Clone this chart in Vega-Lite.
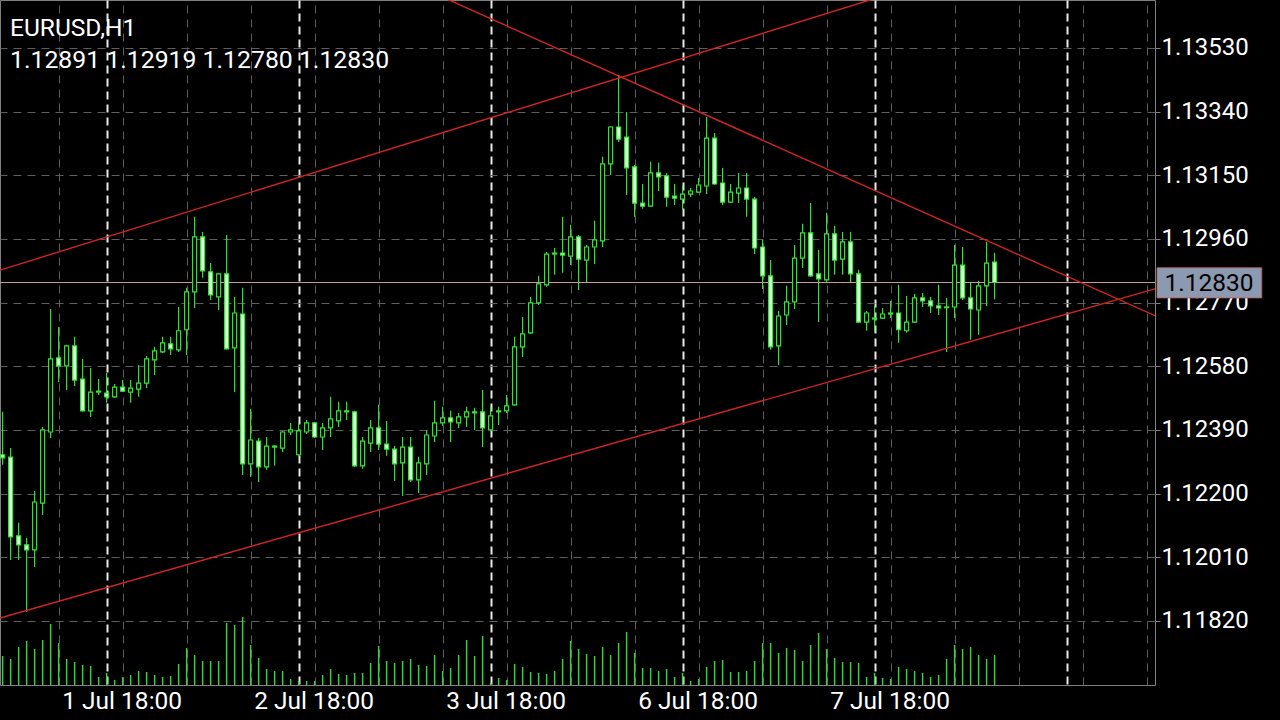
{
"$schema": "https://vega.github.io/schema/vega-lite/v6.json",
"width": 1155, "height": 685,
"autosize": {"type": "none"},
"padding": {"left": 0, "top": 0, "right": 125, "bottom": 35},
"background": "#000000",
"config": {"view": {"stroke": "#808080", "strokeWidth": 1}, "font": "Roboto", "scale": {"continuousPadding": 0}},
"title": {"text": "EURUSD,H1", "subtitle": "1.12891 1.12919 1.12780 1.12830", "anchor": "start", "frame": "group", "orient": "top", "offset": -74, "dx": 10, "font": "Roboto", "subtitleFont": "Roboto", "fontSize": 24.5, "subtitleFontSize": 24.8, "fontWeight": "normal", "color": "#ffffff", "subtitleColor": "#ffffff", "subtitlePadding": 7},
"datasets": {
"candles": [
{"bar":-13,"open":1.12316,"high":1.12444,"low":1.12286,"close":1.12307,"volume":870},
{"bar":-12,"open":1.12309,"high":1.12336,"low":1.12002,"close":1.12071,"volume":780},
{"bar":-11,"open":1.12074,"high":1.12113,"low":1.12002,"close":1.12047,"volume":1140},
{"bar":-10,"open":1.12047,"high":1.12068,"low":1.11847,"close":1.12032,"volume":1320},
{"bar":-9,"open":1.12032,"high":1.12208,"low":1.11981,"close":1.12175,"volume":1080},
{"bar":-8,"open":1.12172,"high":1.12399,"low":1.12136,"close":1.12390,"volume":1350},
{"bar":-7,"open":1.12384,"high":1.12751,"low":1.12366,"close":1.12602,"volume":1830},
{"bar":-6,"open":1.12605,"high":1.12697,"low":1.12533,"close":1.12581,"volume":1260},
{"bar":-5,"open":1.12581,"high":1.12644,"low":1.12509,"close":1.12641,"volume":780},
{"bar":-4,"open":1.12641,"high":1.12668,"low":1.12521,"close":1.12539,"volume":690},
{"bar":-3,"open":1.12542,"high":1.12602,"low":1.12445,"close":1.12447,"volume":600},
{"bar":-2,"open":1.12447,"high":1.12575,"low":1.12429,"close":1.12503,"volume":570},
{"bar":-1,"open":1.12503,"high":1.12542,"low":1.12494,"close":1.12506,"volume":240},
{"bar":0,"open":1.12500,"high":1.12560,"low":1.12471,"close":1.12489,"volume":360},
{"bar":1,"open":1.12489,"high":1.12527,"low":1.12486,"close":1.12518,"volume":150},
{"bar":2,"open":1.12518,"high":1.12539,"low":1.12503,"close":1.12506,"volume":240},
{"bar":3,"open":1.12503,"high":1.12539,"low":1.12471,"close":1.12515,"volume":300},
{"bar":4,"open":1.12512,"high":1.12584,"low":1.12489,"close":1.12530,"volume":420},
{"bar":5,"open":1.12530,"high":1.12611,"low":1.12515,"close":1.12602,"volume":390},
{"bar":6,"open":1.12599,"high":1.12638,"low":1.12554,"close":1.12626,"volume":300},
{"bar":7,"open":1.12623,"high":1.12668,"low":1.12620,"close":1.12650,"volume":240},
{"bar":8,"open":1.12647,"high":1.12668,"low":1.12614,"close":1.12632,"volume":270},
{"bar":9,"open":1.12629,"high":1.12757,"low":1.12623,"close":1.12686,"volume":630},
{"bar":10,"open":1.12689,"high":1.12814,"low":1.12614,"close":1.12802,"volume":1110},
{"bar":11,"open":1.12802,"high":1.13026,"low":1.12754,"close":1.12966,"volume":900},
{"bar":12,"open":1.12966,"high":1.12981,"low":1.12844,"close":1.12865,"volume":720},
{"bar":13,"open":1.12862,"high":1.12888,"low":1.12778,"close":1.12793,"volume":720},
{"bar":14,"open":1.12787,"high":1.12859,"low":1.12748,"close":1.12856,"volume":720},
{"bar":15,"open":1.12856,"high":1.12972,"low":1.12630,"close":1.12632,"volume":1860},
{"bar":16,"open":1.12635,"high":1.12787,"low":1.12503,"close":1.12739,"volume":1800},
{"bar":17,"open":1.12736,"high":1.12814,"low":1.12256,"close":1.12289,"volume":2040},
{"bar":18,"open":1.12289,"high":1.12453,"low":1.12250,"close":1.12360,"volume":1200},
{"bar":19,"open":1.12357,"high":1.12366,"low":1.12235,"close":1.12280,"volume":810},
{"bar":20,"open":1.12280,"high":1.12369,"low":1.12271,"close":1.12342,"volume":480},
{"bar":21,"open":1.12342,"high":1.12345,"low":1.12283,"close":1.12339,"volume":420},
{"bar":22,"open":1.12336,"high":1.12386,"low":1.12324,"close":1.12384,"volume":420},
{"bar":23,"open":1.12384,"high":1.12411,"low":1.12375,"close":1.12390,"volume":180},
{"bar":24,"open":1.12316,"high":1.12411,"low":1.12310,"close":1.12387,"volume":120},
{"bar":25,"open":1.12384,"high":1.12420,"low":1.12378,"close":1.12411,"volume":120},
{"bar":26,"open":1.12411,"high":1.12414,"low":1.12366,"close":1.12369,"volume":120},
{"bar":27,"open":1.12369,"high":1.12411,"low":1.12330,"close":1.12396,"volume":300},
{"bar":28,"open":1.12396,"high":1.12489,"low":1.12369,"close":1.12423,"volume":480},
{"bar":29,"open":1.12417,"high":1.12474,"low":1.12399,"close":1.12447,"volume":330},
{"bar":30,"open":1.12447,"high":1.12474,"low":1.12420,"close":1.12444,"volume":300},
{"bar":31,"open":1.12444,"high":1.12447,"low":1.12280,"close":1.12283,"volume":360},
{"bar":32,"open":1.12283,"high":1.12369,"low":1.12274,"close":1.12357,"volume":360},
{"bar":33,"open":1.12351,"high":1.12420,"low":1.12324,"close":1.12396,"volume":660},
{"bar":34,"open":1.12396,"high":1.12465,"low":1.12330,"close":1.12348,"volume":1170},
{"bar":35,"open":1.12348,"high":1.12417,"low":1.12313,"close":1.12333,"volume":720},
{"bar":36,"open":1.12333,"high":1.12342,"low":1.12238,"close":1.12289,"volume":660},
{"bar":37,"open":1.12292,"high":1.12369,"low":1.12193,"close":1.12339,"volume":720},
{"bar":38,"open":1.12339,"high":1.12369,"low":1.12235,"close":1.12241,"volume":780},
{"bar":39,"open":1.12241,"high":1.12310,"low":1.12202,"close":1.12292,"volume":600},
{"bar":40,"open":1.12289,"high":1.12390,"low":1.12256,"close":1.12375,"volume":570},
{"bar":41,"open":1.12372,"high":1.12477,"low":1.12354,"close":1.12411,"volume":900},
{"bar":42,"open":1.12411,"high":1.12459,"low":1.12402,"close":1.12426,"volume":420},
{"bar":43,"open":1.12426,"high":1.12447,"low":1.12354,"close":1.12414,"volume":510},
{"bar":44,"open":1.12411,"high":1.12441,"low":1.12396,"close":1.12429,"volume":900},
{"bar":45,"open":1.12429,"high":1.12459,"low":1.12399,"close":1.12444,"volume":1350},
{"bar":46,"open":1.12444,"high":1.12456,"low":1.12390,"close":1.12441,"volume":870},
{"bar":47,"open":1.12444,"high":1.12509,"low":1.12339,"close":1.12396,"volume":1470},
{"bar":48,"open":1.12390,"high":1.12459,"low":1.12387,"close":1.12432,"volume":60},
{"bar":49,"open":1.12444,"high":1.12459,"low":1.12405,"close":1.12447,"volume":210},
{"bar":50,"open":1.12447,"high":1.12494,"low":1.12441,"close":1.12462,"volume":150},
{"bar":51,"open":1.12465,"high":1.12668,"low":1.12463,"close":1.12638,"volume":630},
{"bar":52,"open":1.12638,"high":1.12727,"low":1.12608,"close":1.12677,"volume":540},
{"bar":53,"open":1.12680,"high":1.12787,"low":1.12677,"close":1.12769,"volume":390},
{"bar":54,"open":1.12769,"high":1.12850,"low":1.12763,"close":1.12826,"volume":360},
{"bar":55,"open":1.12823,"high":1.12921,"low":1.12817,"close":1.12915,"volume":330},
{"bar":56,"open":1.12915,"high":1.12933,"low":1.12853,"close":1.12918,"volume":420},
{"bar":57,"open":1.12918,"high":1.13026,"low":1.12859,"close":1.12912,"volume":780},
{"bar":58,"open":1.12909,"high":1.13002,"low":1.12882,"close":1.12966,"volume":1320},
{"bar":59,"open":1.12966,"high":1.12972,"low":1.12808,"close":1.12900,"volume":1080},
{"bar":60,"open":1.12897,"high":1.12942,"low":1.12829,"close":1.12936,"volume":930},
{"bar":61,"open":1.12936,"high":1.13014,"low":1.12885,"close":1.12957,"volume":870},
{"bar":62,"open":1.12954,"high":1.13205,"low":1.12936,"close":1.13184,"volume":1140},
{"bar":63,"open":1.13184,"high":1.13296,"low":1.13151,"close":1.13294,"volume":900},
{"bar":64,"open":1.13294,"high":1.13449,"low":1.13249,"close":1.13258,"volume":1260},
{"bar":65,"open":1.13264,"high":1.13339,"low":1.13091,"close":1.13172,"volume":1590},
{"bar":66,"open":1.13175,"high":1.13181,"low":1.13026,"close":1.13067,"volume":960},
{"bar":67,"open":1.13067,"high":1.13124,"low":1.13050,"close":1.13058,"volume":510},
{"bar":68,"open":1.13058,"high":1.13190,"low":1.13056,"close":1.13157,"volume":510},
{"bar":69,"open":1.13157,"high":1.13187,"low":1.13103,"close":1.13145,"volume":420},
{"bar":70,"open":1.13148,"high":1.13157,"low":1.13056,"close":1.13085,"volume":480},
{"bar":71,"open":1.13088,"high":1.13124,"low":1.13061,"close":1.13082,"volume":240},
{"bar":72,"open":1.13079,"high":1.13118,"low":1.13047,"close":1.13094,"volume":360},
{"bar":73,"open":1.13094,"high":1.13112,"low":1.13085,"close":1.13103,"volume":120},
{"bar":74,"open":1.13100,"high":1.13142,"low":1.13097,"close":1.13121,"volume":180},
{"bar":75,"open":1.13118,"high":1.13324,"low":1.13094,"close":1.13261,"volume":540},
{"bar":76,"open":1.13261,"high":1.13276,"low":1.13122,"close":1.13124,"volume":720},
{"bar":77,"open":1.13127,"high":1.13172,"low":1.13061,"close":1.13070,"volume":750},
{"bar":78,"open":1.13070,"high":1.13124,"low":1.13067,"close":1.13100,"volume":390},
{"bar":79,"open":1.13097,"high":1.13157,"low":1.13067,"close":1.13112,"volume":390},
{"bar":80,"open":1.13112,"high":1.13157,"low":1.13026,"close":1.13079,"volume":420},
{"bar":81,"open":1.13079,"high":1.13085,"low":1.12915,"close":1.12933,"volume":720},
{"bar":82,"open":1.12936,"high":1.12957,"low":1.12811,"close":1.12850,"volume":1260},
{"bar":83,"open":1.12850,"high":1.12897,"low":1.12629,"close":1.12638,"volume":1260},
{"bar":84,"open":1.12641,"high":1.12745,"low":1.12584,"close":1.12730,"volume":960},
{"bar":85,"open":1.12733,"high":1.12820,"low":1.12703,"close":1.12772,"volume":1110},
{"bar":86,"open":1.12772,"high":1.12942,"low":1.12751,"close":1.12903,"volume":1050},
{"bar":87,"open":1.12903,"high":1.13005,"low":1.12873,"close":1.12978,"volume":720},
{"bar":88,"open":1.12978,"high":1.13067,"low":1.12847,"close":1.12850,"volume":1200},
{"bar":89,"open":1.12856,"high":1.12927,"low":1.12712,"close":1.12841,"volume":1560},
{"bar":90,"open":1.12838,"high":1.13038,"low":1.12832,"close":1.12975,"volume":1080},
{"bar":91,"open":1.12975,"high":1.12999,"low":1.12853,"close":1.12897,"volume":810},
{"bar":92,"open":1.12900,"high":1.12981,"low":1.12853,"close":1.12951,"volume":690},
{"bar":93,"open":1.12951,"high":1.12981,"low":1.12829,"close":1.12856,"volume":690},
{"bar":94,"open":1.12856,"high":1.12868,"low":1.12710,"close":1.12712,"volume":660},
{"bar":95,"open":1.12712,"high":1.12745,"low":1.12686,"close":1.12739,"volume":240},
{"bar":96,"open":1.12724,"high":1.12760,"low":1.12683,"close":1.12721,"volume":360},
{"bar":97,"open":1.12724,"high":1.12754,"low":1.12721,"close":1.12736,"volume":210},
{"bar":98,"open":1.12739,"high":1.12775,"low":1.12724,"close":1.12736,"volume":180},
{"bar":99,"open":1.12739,"high":1.12823,"low":1.12650,"close":1.12689,"volume":540},
{"bar":100,"open":1.12686,"high":1.12790,"low":1.12680,"close":1.12712,"volume":480},
{"bar":101,"open":1.12712,"high":1.12796,"low":1.12709,"close":1.12784,"volume":420},
{"bar":102,"open":1.12784,"high":1.12799,"low":1.12757,"close":1.12775,"volume":360},
{"bar":103,"open":1.12775,"high":1.12787,"low":1.12739,"close":1.12760,"volume":240},
{"bar":104,"open":1.12760,"high":1.12823,"low":1.12733,"close":1.12754,"volume":300},
{"bar":105,"open":1.12757,"high":1.12784,"low":1.12623,"close":1.12755,"volume":780},
{"bar":106,"open":1.12757,"high":1.12942,"low":1.12724,"close":1.12882,"volume":1200},
{"bar":107,"open":1.12882,"high":1.12936,"low":1.12778,"close":1.12784,"volume":1080},
{"bar":108,"open":1.12784,"high":1.12829,"low":1.12659,"close":1.12751,"volume":1140},
{"bar":109,"open":1.12748,"high":1.12835,"low":1.12674,"close":1.12820,"volume":900},
{"bar":110,"open":1.12820,"high":1.12951,"low":1.12760,"close":1.12888,"volume":780},
{"bar":111,"open":1.12891,"high":1.12919,"low":1.12780,"close":1.12830,"volume":900}
],
"trendlines": [
{"line":"upper","bar":-13.33,"price":1.12867},
{"line":"upper","bar":131.05,"price":1.13937},
{"line":"falling","bar":-13.33,"price":1.14272},
{"line":"falling","bar":131.05,"price":1.12731},
{"line":"lower","bar":-13.33,"price":1.11829},
{"line":"lower","bar":131.05,"price":1.12811}
],
"last": [{"price":1.1283,"label":"1.12830","lo":1.12784,"hi":1.12874}]
},
"layer": [
{
"data": {"name": "candles"},
"mark": {"type": "rule", "color": "#33d633", "strokeWidth": 1.5},
"encoding": {
"x": {"field": "bar", "type": "quantitative", "scale": {"domain": [-13.33, 131.05], "nice": false, "zero": false, "padding": 0},
"axis": {"orient": "top", "values": [-6,2,10,18,26,34,42,50,58,66,74,82,90,98,106,114,122,130], "labels": false, "ticks": false, "domain": false, "grid": true, "gridColor": "#5e5e5e", "gridDash": [8,6], "gridWidth": 1, "title": null, "zindex": 0}},
"y": {"field": "volume", "type": "quantitative", "scale": {"domain": [0, 20550], "nice": false, "zero": true}, "axis": null},
"y2": {"datum": 0}
}
},
{
"data": {"name": "candles"},
"mark": {"type": "rule", "color": "#33e633", "strokeWidth": 1.2},
"encoding": {
"x": {"field": "bar", "type": "quantitative", "scale": {"domain": [-13.33, 131.05], "nice": false, "zero": false, "padding": 0},
"axis": {"orient": "bottom", "values": [0,24,48,72,96,120], "labelExpr": "datum.value==0?'1 Jul 18:00':datum.value==24?'2 Jul 18:00':datum.value==48?'3 Jul 18:00':datum.value==72?'6 Jul 18:00':datum.value==96?'7 Jul 18:00':''", "labelOffset": 15, "labelFontSize": 24.5, "labelFont": "Roboto", "labelColor": "#ffffff", "labelPadding": 4, "labelBaseline": "top", "labelFlush": false, "labelOverlap": false, "ticks": false, "domain": false, "grid": true, "gridColor": "#e8e8e8", "gridDash": [8,5], "gridWidth": 2, "title": null, "zindex": 0}},
"y": {"field": "high", "type": "quantitative", "scale": {"domain": [1.11629, 1.13673], "nice": false, "zero": false},
"axis": {"orient": "right", "values": [1.1182,1.1201,1.122,1.1239,1.1258,1.1277,1.1296,1.1315,1.1334,1.1353], "format": ".5f", "labelFontSize": 24, "labelFont": "Roboto", "labelColor": "#ffffff", "labelPadding": 1, "tickSize": 5, "tickColor": "#808080", "domain": false, "grid": true, "gridColor": "#5e5e5e", "gridDash": [8,6], "gridWidth": 1, "title": null, "zindex": 0}},
"y2": {"field": "low"}
}
},
{
"data": {"name": "last"},
"mark": {"type": "rule", "color": "#c99a9a", "strokeWidth": 1},
"encoding": {
"y": {"field": "price", "type": "quantitative", "scale": {"domain": [1.11629, 1.13673], "nice": false, "zero": false}, "axis": null}
}
},
{
"data": {"name": "candles"},
"mark": {"type": "bar", "orient": "vertical", "size": 4, "stroke": "#33e633", "strokeWidth": 1.2},
"encoding": {
"x": {"field": "bar", "type": "quantitative", "scale": {"domain": [-13.33, 131.05], "nice": false, "zero": false, "padding": 0}, "axis": null},
"y": {"field": "open", "type": "quantitative", "scale": {"domain": [1.11629, 1.13673], "nice": false, "zero": false}, "axis": null},
"y2": {"field": "close"},
"fill": {"condition": {"test": "datum.close >= datum.open", "value": "#000000"}, "value": "#d6ffd6"}
}
},
{
"data": {"name": "trendlines"},
"mark": {"type": "line", "color": "#d42424", "strokeWidth": 1.4, "clip": true},
"encoding": {
"x": {"field": "bar", "type": "quantitative", "scale": {"domain": [-13.33, 131.05], "nice": false, "zero": false, "padding": 0}, "axis": null},
"y": {"field": "price", "type": "quantitative", "scale": {"domain": [1.11629, 1.13673], "nice": false, "zero": false}, "axis": null},
"detail": {"field": "line"}
}
},
{
"data": {"name": "last"},
"mark": {"type": "rect", "fill": "#8b9ab0", "stroke": "#c25a5a", "strokeWidth": 0.8},
"encoding": {
"x": {"datum": 131.3, "type": "quantitative", "scale": {"domain": [-13.33, 131.05], "nice": false, "zero": false, "padding": 0}, "axis": null},
"x2": {"datum": 144.4},
"y": {"field": "lo", "type": "quantitative", "scale": {"domain": [1.11629, 1.13673], "nice": false, "zero": false}, "axis": null},
"y2": {"field": "hi"}
}
},
{
"data": {"name": "last"},
"mark": {"type": "text", "color": "#000000", "fontSize": 24.5, "font": "Roboto", "align": "center", "baseline": "middle", "dy": 1},
"encoding": {
"x": {"datum": 137.8, "type": "quantitative", "scale": {"domain": [-13.33, 131.05], "nice": false, "zero": false, "padding": 0}, "axis": null},
"y": {"field": "price", "type": "quantitative", "scale": {"domain": [1.11629, 1.13673], "nice": false, "zero": false}, "axis": null},
"text": {"field": "label"}
}
}
],
"resolve": {"scale": {"y": "independent"}, "axis": {"x": "independent", "y": "independent"}}
}
